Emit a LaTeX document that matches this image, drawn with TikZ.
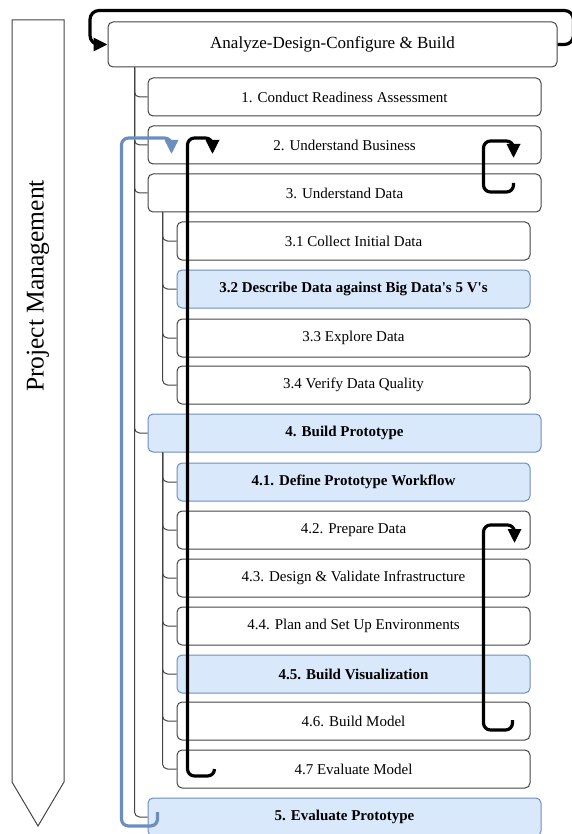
\documentclass[tikz,border=0pt]{standalone}
\usepackage{fontspec}
\setmainfont{Liberation Serif}
\usetikzlibrary{positioning,arrows.meta}

\definecolor{hifill}{HTML}{DAE8FC}
\definecolor{hidraw}{HTML}{6C8EBF}
\definecolor{boxdraw}{HTML}{444444}

\tikzset{
    box/.style={draw=boxdraw, line width=1pt, fill=white, rounded corners=5, inner sep=0,
        minimum height=38, font=\fontsize{15}{18}\selectfont},
    hibox/.style={box, draw=hidraw, fill=hifill, font=\fontsize{15}{18}\selectfont\bfseries},
    tree/.style={draw=boxdraw, line width=1pt, rounded corners=5},
    cyclearr/.style={line width=3.2pt, rounded corners=7, -{Triangle[length=14pt,width=13pt]}},
    bluearr/.style={cyclearr, draw=hidraw}
}

\begin{document}
\begin{tikzpicture}[x=1pt,y=-1pt]
    \useasboundingbox (0,0) rectangle (572,834);
    % project management arrow
    \draw[boxdraw, line width=1pt] (12,20) -- (64,20) -- (64,782) -- (38,826) -- (12,782) -- cycle;
    \node[rotate=90, font=\fontsize{25.5}{30}\selectfont] (pm) at (38,286) {Project Management};
    % main phase
    \node[box, minimum width=449, minimum height=45, font=\fontsize{17}{20}\selectfont] (top) at (332.5,44.5) {Analyze-Design-Configure \& Build};
    \foreach \nm/\y/\s/\txt in {n1/97/box/{1. Conduct Readiness Assessment},
        n2/145/box/{2. Understand Business}, n3/193/box/{3. Understand Data},
        n4/433/hibox/{4. Build Prototype}, n5/817/hibox/{5. Evaluate Prototype}}
        {
            \node[\s, minimum width=393] (\nm) at (344.5,\y) {\txt};
        }
    % sub steps
    \foreach \nm/\y/\s/\txt in {n31/241/box/{3.1 Collect Initial Data},
        n32/289/hibox/{3.2 Describe Data against Big Data\textquotesingle s 5 V\textquotesingle s},
        n33/338/box/{3.3 Explore Data}, n34/385/box/{3.4 Verify Data Quality},
        n41/482/hibox/{4.1. Define Prototype Workflow}, n42/530/box/{4.2. Prepare Data},
        n43/578/box/{4.3. Design \& Validate Infrastructure},
        n44/626/box/{4.4. Plan and Set Up Environments},
        n45/674/hibox/{4.5. Build Visualization}, n46/721/box/{4.6. Build Model},
        n47/769/box/{4.7 Evaluate Model}}
        {
            \node[\s, minimum width=353] (\nm) at (353.5,\y) {\txt};
        }
    % tree lines
    \coordinate (trunk) at ([xshift=27]top.south west);
    \coordinate (trunk3) at ([xshift=15]n3.south west);
    \coordinate (trunk4) at ([xshift=15]n4.south west);
    \foreach \nm in {n1,n2,n3,n4,n5}
        \draw[tree] (trunk) |- (\nm.west);
    \foreach \nm in {n31,n32,n33,n34}
        \draw[tree] (trunk3) |- (\nm.west);
    \foreach \nm in {n41,n42,n43,n44,n45,n46,n47}
        \draw[tree] (trunk4) |- (\nm.west);
    % iteration arrows
    \draw[cyclearr, rounded corners=9] (top.east) -- ++(16,0) -- ++(0,-34) -- (90,10.5) |- (top.west);
    \coordinate (bs) at ([shift={(10,-5)}]n5.west);
    \coordinate (be) at ([shift={(24,9)}]n2.west);
    \draw[bluearr] (bs) -- ++(0,14) -- ++(-36,0) -- ++(0,-688) -- ++(50,0) -- (be);
    \coordinate (as) at ([shift={(38,0)}]n47.west);
    \coordinate (ae) at ([shift={(65,9)}]n2.west);
    \draw[cyclearr] (as) -- ++(0,7) -- ++(-27,0) -- ++(0,-638) -- ++(25,0) -- (ae);
    \coordinate (cs) at ([shift={(-28,-10)}]n3.east);
    \coordinate (ce) at ([shift={(-28,13)}]n2.east);
    \draw[cyclearr] (cs) -- ++(0,9) -- ++(-30,0) -- ++(0,-51) -- ++(30,0) -- (ce);
    \coordinate (ds) at ([shift={(-18,-1)}]n46.east);
    \coordinate (de) at ([shift={(-16,13)}]n42.east);
    \draw[cyclearr] (ds) -- ++(0,10) -- ++(-29,0) -- ++(0,-205) -- ++(31,0) -- (de);
\end{tikzpicture}
\end{document}
